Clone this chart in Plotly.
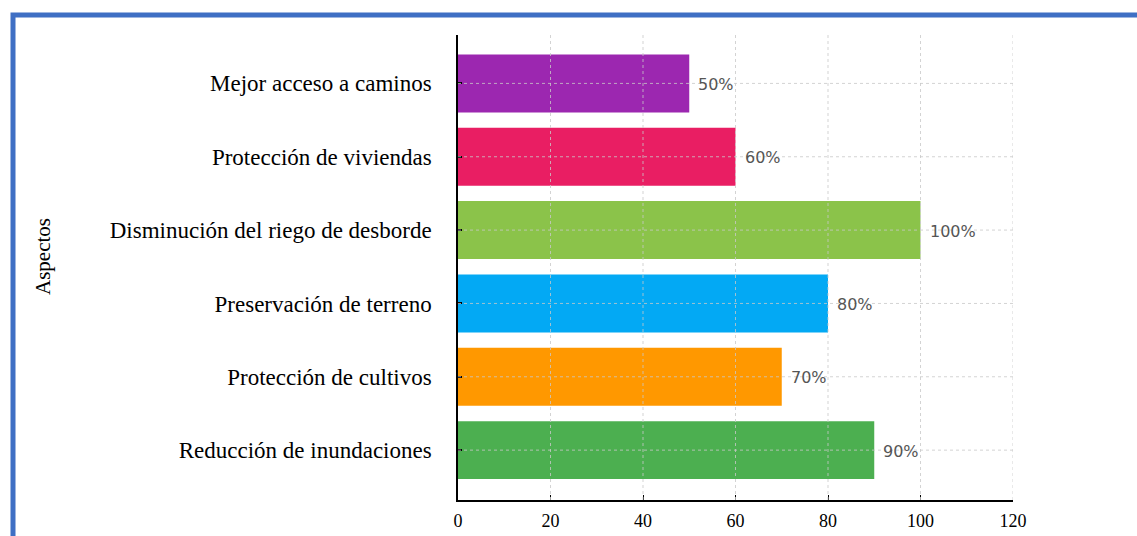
import plotly.graph_objects as go

# Aspects, listed bottom-to-top as they are stacked on the category axis
aspectos = [
    "Reducción de inundaciones",
    "Protección de cultivos",
    "Preservación de terreno",
    "Disminución del riego de desborde",
    "Protección de viviendas",
    "Mejor acceso a caminos",
]
porcentajes = [90, 70, 80, 100, 60, 50]
colores = ["#4CAF50", "#FF9800", "#03A9F4", "#8BC34A", "#E91E63", "#9C27B0"]
x_ticks = [0, 20, 40, 60, 80, 100, 120]

W, H = 1137, 536
M_L, M_R, M_T, M_B = 458, 124, 35, 36
PLOT_W = W - M_L - M_R
PLOT_H = H - M_T - M_B

SERIF = "Liberation Serif, Times New Roman, serif"
SANS = "DejaVu Sans, Verdana, sans-serif"

fig = go.Figure(
    go.Bar(
        x=porcentajes,
        y=aspectos,
        orientation="h",
        marker=dict(color=colores, line=dict(width=0)),
        hoverinfo="skip",
    )
)

# value labels to the right of each bar
for a, v in zip(aspectos, porcentajes):
    fig.add_annotation(
        x=v, y=a, xref="x", yref="y",
        text=f"{v}%", showarrow=False,
        xanchor="left", yanchor="middle", xshift=7, yshift=-1,
        font=dict(family=SANS, size=16, color="#555555"),
    )

grid_style = dict(color="rgba(200,200,200,0.8)", width=1, dash="dot")

# dashed grid drawn over the bars
for t in x_ticks[1:]:
    fig.add_shape(type="line", xref="x", yref="y domain",
                  x0=t, x1=t, y0=0, y1=1, line=grid_style, layer="above")
for a in aspectos:
    fig.add_shape(type="line", xref="x", yref="y",
                  x0=x_ticks[0], x1=x_ticks[-1], y0=a, y1=a,
                  line=grid_style, layer="above")

# outer blue frame (open on the right and bottom edges of the page)
def px_to_paper_x(px):
    return (px - M_L) / PLOT_W

def px_to_paper_y(py):
    return (H - M_B - py) / PLOT_H

fig.add_shape(type="rect", xref="paper", yref="paper",
              x0=px_to_paper_x(13), x1=px_to_paper_x(W + 40),
              y0=px_to_paper_y(H + 40), y1=px_to_paper_y(15),
              line=dict(color="#3F6FC4", width=5), layer="below")

# rotated axis caption
fig.add_annotation(
    x=px_to_paper_x(43), y=px_to_paper_y(257), xref="paper", yref="paper",
    text="Aspectos", textangle=-90, showarrow=False,
    xanchor="center", yanchor="middle",
    font=dict(family=SERIF, size=21, color="#000000"),
)

fig.update_xaxes(
    range=[x_ticks[0], x_ticks[-1]],
    tickvals=x_ticks,
    ticktext=[str(t) for t in x_ticks],
    showgrid=False, zeroline=False,
    showline=True, linecolor="#000000", linewidth=1.5,
    ticks="inside", ticklen=5, tickcolor="#000000", tickwidth=1,
    ticklabelstandoff=4,
    tickfont=dict(family=SERIF, size=18, color="#000000"),
    automargin=False,
    fixedrange=True,
)
fig.update_yaxes(
    type="category",
    range=[-0.68, 5.66],
    showgrid=False, zeroline=False,
    showline=True, linecolor="#000000", linewidth=1.5,
    ticks="inside", ticklen=4, tickcolor="#000000", tickwidth=1.5,
    ticklabelstandoff=20,
    tickfont=dict(family=SERIF, size=23, color="#000000"),
    automargin=False,
    fixedrange=True,
)

fig.update_layout(
    width=W, height=H,
    margin=dict(l=M_L, r=M_R, t=M_T, b=M_B),
    paper_bgcolor="#FFFFFF", plot_bgcolor="#FFFFFF",
    bargap=0.21,
    showlegend=False,
)

fig.write_html("out.html", config={"displayModeBar": False})
